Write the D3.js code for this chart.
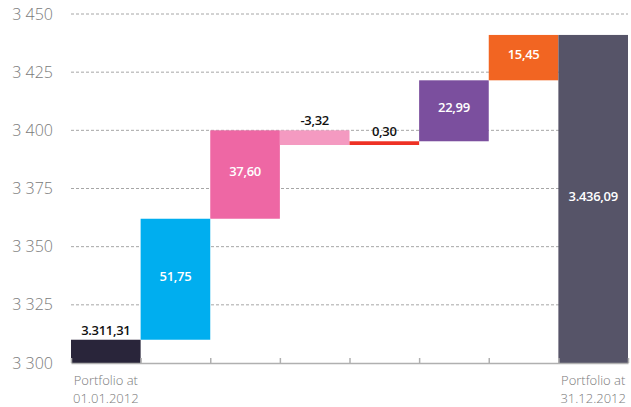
<!DOCTYPE html>
<html>
<head>
<meta charset="utf-8">
<script src="https://cdn.jsdelivr.net/npm/d3@7"></script>
<style>
  body { margin: 0; background: #fff; }
  svg text { font-family: "Open Sans", "Lato", sans-serif; }
</style>
</head>
<body>
<div id="chart"></div>
<script>
// waterfall steps, values
const steps = ["start", "s1", "s2", "s3", "s4", "s5", "s6", "end"];
const barFrom = [3300, 3310, 3362, 3400, 3393.7, 3395.3, 3421.5, 3300];
const barTo   = [3310, 3362, 3400, 3393.7, 3395.3, 3421.5, 3441, 3441];
const valueLabels = ["3.311,31", "51,75", "37,60", "-3,32", "0,30", "22,99", "15,45", "3.436,09"];
const barColors = ["#29253a", "#00aeef", "#ee67a4", "#f49ac1", "#ee3124", "#7b4f9e", "#f26522", "#565468"];
const yTicks = [3300, 3325, 3350, 3375, 3400, 3425, 3450];
const endLabels = { start: ["Portfolio at", "01.01.2012"], end: ["Portfolio at", "31.12.2012"] };

const svgWidth = 631;
const svgHeight = 407;
const margin = { top: 14, right: 3, bottom: 44, left: 71 };
const width = svgWidth - margin.left - margin.right;
const height = svgHeight - margin.top - margin.bottom;

const svg = d3.select("#chart")
  .append("svg")
  .attr("width", svgWidth)
  .attr("height", svgHeight);

const chartGroup = svg.append("g")
  .attr("transform", `translate(${margin.left}, ${margin.top})`);

const x = d3.scaleBand()
  .domain(steps)
  .range([0, width])
  .padding(0);

const y = d3.scaleLinear()
  .domain([3300, 3450])
  .range([height, 0]);

const fmt = v => d3.format(",")(v).replace(",", " ");

// dashed grid lines
chartGroup.selectAll(".grid")
  .data(yTicks.slice(1))
  .enter()
  .append("line")
  .attr("x1", 0)
  .attr("x2", width)
  .attr("y1", d => y(d))
  .attr("y2", d => y(d))
  .attr("stroke", "#a6a6a6")
  .attr("stroke-width", 1)
  .attr("stroke-dasharray", "3,2");

// y labels
chartGroup.selectAll(".ylab")
  .data(yTicks)
  .enter()
  .append("text")
  .attr("x", -18)
  .attr("y", d => y(d))
  .attr("dy", "0.35em")
  .attr("text-anchor", "end")
  .attr("fill", "#7a7a7a")
  .attr("font-size", 16)
  .attr("font-weight", 300)
  .text(fmt);

// bars
const bars = steps.map((s, i) => ({
  step: s, from: barFrom[i], to: barTo[i], label: valueLabels[i], color: barColors[i]
}));

chartGroup.selectAll(".bar")
  .data(bars)
  .enter()
  .append("rect")
  .attr("x", d => x(d.step))
  .attr("width", x.bandwidth())
  .attr("y", d => Math.min(y(d.from), y(d.to)))
  .attr("height", d => Math.max(Math.abs(y(d.from) - y(d.to)), 1))
  .attr("fill", d => d.color);

// value labels: inside when the bar is tall enough, else above
chartGroup.selectAll(".val")
  .data(bars)
  .enter()
  .append("text")
  .attr("x", d => x(d.step) + x.bandwidth() / 2)
  .attr("y", d => {
    const top = Math.min(y(d.from), y(d.to));
    const h = Math.abs(y(d.from) - y(d.to));
    return h > 30 ? top + h / 2 - 3 : top - 5;
  })
  .attr("dy", d => Math.abs(y(d.from) - y(d.to)) > 30 ? "0.35em" : "0")
  .attr("text-anchor", "middle")
  .attr("fill", d => Math.abs(y(d.from) - y(d.to)) > 30 ? "#fff" : "#111")
  .attr("font-size", 13)
  .attr("font-weight", 600)
  .attr("letter-spacing", -0.3)
  .text(d => d.label);

// bottom axis with inward ticks at band edges
const edge = d3.scaleLinear().domain([0, steps.length]).range([0, width]);
const bottomAxis = d3.axisBottom(edge)
  .tickValues(d3.range(0, steps.length + 1))
  .tickSizeInner(-5)
  .tickSizeOuter(0)
  .tickFormat("");

const xAxis = chartGroup.append("g")
  .attr("transform", `translate(0, ${height})`)
  .call(bottomAxis);
xAxis.select(".domain").attr("stroke", "#b0b0b0").attr("stroke-width", 1.5);
xAxis.selectAll(".tick line").attr("stroke", "#b0b0b0").attr("stroke-width", 1.5);

// first / last category labels
Object.keys(endLabels).forEach(k => {
  endLabels[k].forEach((line, i) => {
    chartGroup.append("text")
      .attr("x", x(k) + x.bandwidth() / 2)
      .attr("y", height + 22 + i * 18)
      .attr("text-anchor", "middle")
      .attr("fill", "#7a7a7a")
      .attr("font-family", "Roboto, sans-serif")
      .attr("font-size", 13)
      .attr("font-weight", 300)
      .text(line);
  });
});
</script>
</body>
</html>
